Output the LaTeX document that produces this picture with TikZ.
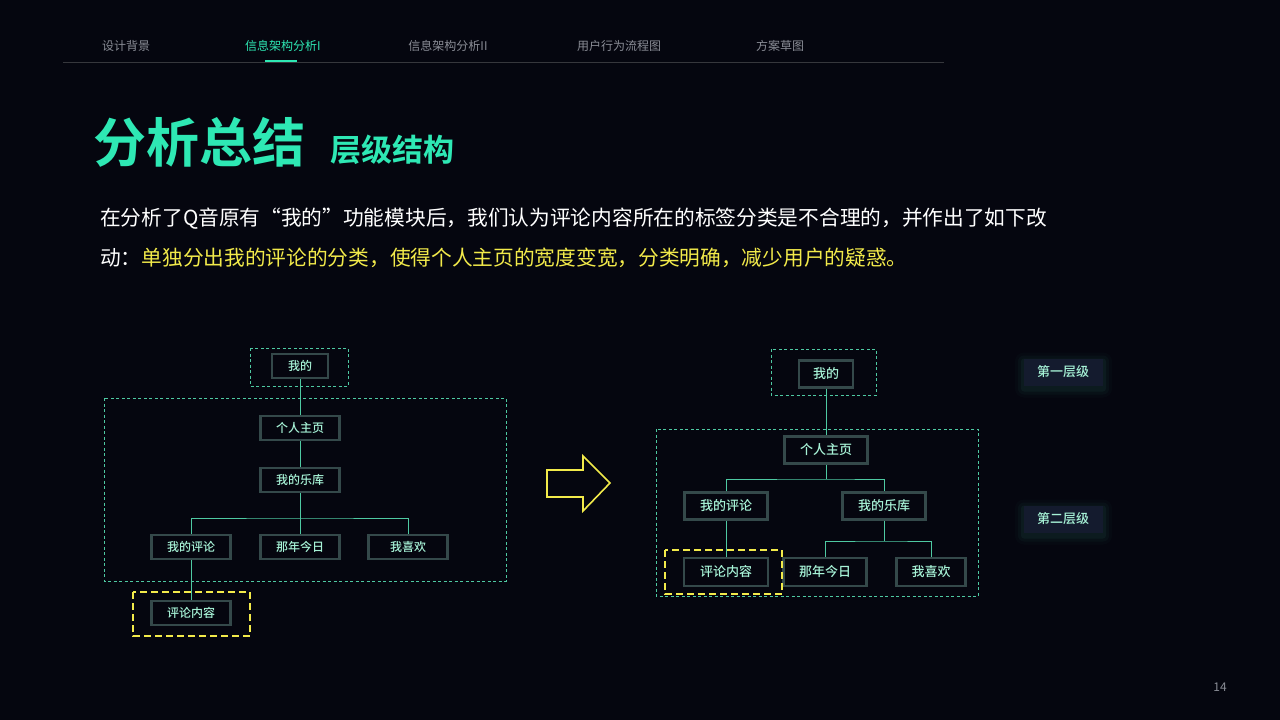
\documentclass[tikz,border=0pt]{standalone}
\usepackage{fontspec}
\setmainfont{Noto Sans CJK SC}
\newfontfamily\cjkb{Noto Sans CJK SC Bold}
\newfontfamily\cjkm{Noto Sans CJK SC Medium}
\usetikzlibrary{calc}
\definecolor{bg}{HTML}{05060F}
\definecolor{mint}{HTML}{2EE8B4}
\definecolor{boxtxt}{HTML}{A6F2D6}
\definecolor{boxbd}{HTML}{34494A}
\definecolor{lnc}{HTML}{4EC9A2}
\definecolor{ylw}{HTML}{F2EA4A}
\definecolor{gry}{HTML}{8A8D96}
\definecolor{HTML1}{HTML}{141B2E}
\tikzset{
  tn/.style={draw=boxbd,line width=2.4pt,fill=bg,text=boxtxt,font=\cjkm\fontsize{12}{12}\selectfont,inner sep=0pt,minimum height=24pt},
  tl/.style={draw=lnc,line width=0.9pt},
  gd/.style={draw=lnc,line width=0.9pt,dash pattern=on 3pt off 2.5pt},
  yd/.style={draw=ylw,line width=1.6pt,dash pattern=on 7pt off 4pt},
  tab/.style={text=gry,font=\fontsize{12}{12}\selectfont},
  lv/.style={fill=HTML1,text=boxtxt,font=\cjkm\fontsize{13}{13}\selectfont,minimum width=79pt,minimum height=27pt,inner sep=0pt}
}
\begin{document}
\begin{tikzpicture}[x=1pt,y=-1pt]
\fill[bg] (0,0) rectangle (1280,720);
\useasboundingbox (0,0) rectangle (1280,720);
% header
\draw[draw=gray!40!bg,line width=0.8pt] (63,62) coordinate (h1) -- (944,62) coordinate (h2);
\draw[mint,line width=2pt] (265,61) coordinate (u1) -- (297,61) coordinate (u2);
\node[tab] (t1) at (126,46) {设计背景};
\node[tab,text=mint] (t2) at (283,46) {信息架构分析I};
\node[tab] (t3) at (448,46) {信息架构分析II};
\node[tab] (t4) at (619,46) {用户行为流程图};
\node[tab] (t5) at (780,46) {方案草图};
% title
\node[anchor=west,text=mint,font=\cjkb\fontsize{53}{53}\selectfont,inner sep=0pt] (ti) at (93,142) {分析总结};
\node[anchor=west,text=mint,font=\cjkb\fontsize{31}{31}\selectfont,inner sep=0pt] (st) at (330,150) {层级结构};
\node[anchor=west,text=white,font=\fontsize{20.7}{20.7}\selectfont,inner sep=0pt] (p1) at (100,219) {在分析了Q音原有“我的”功能模块后，我们认为评论内容所在的标签分类是不合理的，并作出了如下改};
\node[anchor=west,text=white,font=\fontsize{20.7}{20.7}\selectfont,inner sep=0pt] (p2) at (100,258) {动：\textcolor{ylw}{单独分出我的评论的分类，使得个人主页的宽度变宽，分类明确，减少用户的疑惑。}};
% left tree
\draw[gd] (250,348) rectangle (348,386);
\draw[gd] (104,398) rectangle (506,581);
\draw[yd] (133,592) rectangle (250,636);
\node[tn,minimum width=56pt] (a0) at (300,366) {我的};
\node[tn,minimum width=79pt] (a1) at (300,428) {个人主页};
\node[tn,minimum width=79pt] (a2) at (300,480) {我的乐库};
\node[tn,minimum width=79pt] (a3) at (191,547) {我的评论};
\node[tn,minimum width=79pt] (a4) at (300,547) {那年今日};
\node[tn,minimum width=79pt] (a5) at (408,547) {我喜欢};
\node[tn,minimum width=79pt] (a6) at (191,613) {评论内容};
\draw[tl] (a0) -- (a1); \draw[tl] (a1) -- (a2); \draw[tl] (a2) -- (a4);
\draw[tl] (a3.north) |- (a2.south |- 0,518) -| (a5.north);
\draw[tl] (a3) -- (a6);
% arrow
\draw[ylw,line width=1.6pt,fill=bg,line join=miter] (547,470) coordinate (ar1) -- (583,470) -- (583,456) -- (610,483) -- (583,511) -- (583,497) -- (547,497) -- cycle;
% right tree
\draw[gd] (771,349) rectangle (876,395);
\draw[gd] (656,429) rectangle (978,596);
\node[tn,minimum width=54pt,minimum height=27pt,font=\cjkm\fontsize{13}{13}\selectfont] (b0) at (826,374) {我的};
\node[tn,minimum width=83pt,minimum height=27pt,font=\cjkm\fontsize{13}{13}\selectfont] (b1) at (826,450) {个人主页};
\node[tn,minimum width=83pt,minimum height=27pt,font=\cjkm\fontsize{13}{13}\selectfont] (b2) at (726,506) {我的评论};
\node[tn,minimum width=83pt,minimum height=27pt,font=\cjkm\fontsize{13}{13}\selectfont] (b3) at (884,506) {我的乐库};
\node[tn,minimum width=84pt,minimum height=28pt,font=\cjkm\fontsize{13}{13}\selectfont] (b4) at (726,572) {评论内容};
\node[tn,minimum width=83pt,minimum height=28pt,font=\cjkm\fontsize{13}{13}\selectfont] (b5) at (825,572) {那年今日};
\node[tn,minimum width=69pt,minimum height=28pt,font=\cjkm\fontsize{13}{13}\selectfont] (b6) at (931,572) {我喜欢};
\draw[yd] (665,550) rectangle (782,594);
\draw[tl] (b0) -- (b1);
\draw[tl] (b2.north) |- (b1.south |- 0,479) -| (b3.north);
\draw[tl] (b1.south) -- (b1.south |- 0,479);
\draw[tl] (b2) -- (b4);
\draw[tl] (b5.north) |- (b3.south |- 0,541) -| (b6.north);
\draw[tl] (b3.south) -- (b3.south |- 0,541);
% level labels
\foreach \yy/\nm/\tx in {372/l1/第一层级,519/l2/第二层级}{
  \foreach \w/\o in {9/0.025,6/0.04,3/0.06}{
    \fill[lnc,opacity=\o,rounded corners=\w pt] (1024-\w,\yy-13.5-\w+3) rectangle (1103+\w,\yy+13.5+\w+3);}
  \node[lv] (\nm) at (1063,\yy) {\tx};
}
\node[text=gry,font=\fontsize{12}{12}\selectfont] (pg) at (1220,687) {14};
\end{tikzpicture}
\end{document}
